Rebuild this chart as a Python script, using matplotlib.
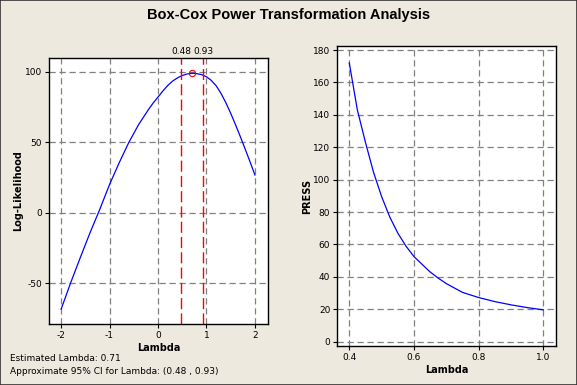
import matplotlib.pyplot as plt
from matplotlib.patches import Rectangle
import matplotlib.transforms as mtransforms

plt.rcParams['axes.unicode_minus'] = False

# log-likelihood curve
lam_ll = [-2.0, -1.8, -1.6, -1.4, -1.2, -1.0, -0.8, -0.6, -0.4, -0.2, -0.1, 0.0,
          0.1, 0.2, 0.3, 0.4, 0.5, 0.6, 0.71, 0.8, 0.9, 1.0, 1.1, 1.2, 1.3,
          1.4, 1.5, 1.6, 1.7, 1.8, 1.9, 2.0]
loglik = [-68.5, -49.5, -31.5, -14, 2.5, 20, 35.5, 50, 62.5, 73, 77.8, 82,
          86.3, 90.2, 93.3, 95.6, 97.3, 98.4, 98.9, 98.6, 97.9, 96.4, 93.8, 90, 84.6,
          78, 70.5, 62.3, 53.8, 45, 36, 26.7]
est_lambda = 0.71
ci_low, ci_high = 0.48, 0.93

# PRESS curve
lam_press = [0.4, 0.425, 0.45, 0.475, 0.5, 0.525, 0.55, 0.575, 0.6, 0.625,
             0.65, 0.675, 0.7, 0.75, 0.8, 0.85, 0.9, 0.95, 1.0]
press = [172, 143, 123, 104.5, 89.5, 77, 67, 59, 52.5, 47.7,
         43, 39.2, 35.8, 30.4, 27.2, 24.7, 22.7, 21, 19.6]

bg = '#EDE9DE'
grid_kw = dict(color='#808080', linestyle=(0, (5, 3)), linewidth=0.9)

fig = plt.figure(figsize=(5.77, 3.85), dpi=100, facecolor=bg)
fig.patches.append(Rectangle((0, 0), 1, 1, transform=fig.transFigure, fill=False,
                             edgecolor='#333333', linewidth=1.2))

fig.text(0.5, 0.962, 'Box-Cox Power Transformation Analysis', ha='center', va='center',
         fontsize=10.5, fontweight='bold', family=['Liberation Sans', 'DejaVu Sans'])

def style(ax):
    for s in ax.spines.values():
        s.set_linewidth(1.0)
        s.set_color('black')
    ax.tick_params(labelsize=6.5, length=3, width=0.8, pad=2)
    ax.grid(True, **grid_kw)
    ax.set_axisbelow(True)

# left panel
ax1 = fig.add_axes([0.0849, 0.1584, 0.3796, 0.6909])
ax1.plot(lam_ll, loglik, color='blue', linewidth=0.9)
ax1.axvline(ci_low, color='red', linestyle=(0, (8, 3)), linewidth=1.0)
ax1.axvline(ci_high, color='red', linestyle=(0, (8, 3)), linewidth=1.0)
ax1.plot([est_lambda], [max(loglik)], marker='o', markersize=4.5, markerfacecolor='none',
         markeredgecolor='red', markeredgewidth=0.8)
ax1.set_xlim(-2.25, 2.27)
ax1.set_ylim(-79, 109.7)
ax1.set_xticks([-2, -1, 0, 1, 2])
ax1.set_yticks([-50, 0, 50, 100])
style(ax1)
ax1.set_xlabel('Lambda', fontsize=7, fontweight='bold', labelpad=2)
ax1.set_ylabel('Log-Likelihood', fontsize=7, fontweight='bold', labelpad=1)
tr = mtransforms.blended_transform_factory(ax1.transData, ax1.transAxes)
ax1.text(ci_low, 1.006, '%.2f' % ci_low, transform=tr, ha='center', va='bottom', fontsize=6.5)
ax1.text(ci_high, 1.006, '%.2f' % ci_high, transform=tr, ha='center', va='bottom', fontsize=6.5)

fig.text(0.017, 0.07, 'Estimated Lambda: %.2f' % est_lambda, fontsize=6.5, va='center')
fig.text(0.017, 0.034, 'Approximate 95%% CI for Lambda: (%.2f , %.2f)' % (ci_low, ci_high),
         fontsize=6.5, va='center')

# right panel
ax2 = fig.add_axes([0.5846, 0.1013, 0.3785, 0.7792])
ax2.plot(lam_press, press, color='blue', linewidth=0.9)
ax2.set_xlim(0.363, 1.038)
ax2.set_ylim(-2.7, 182.5)
ax2.set_xticks([0.4, 0.6, 0.8, 1.0])
ax2.set_yticks(range(0, 181, 20))
style(ax2)
ax2.set_xlabel('Lambda', fontsize=7, fontweight='bold', labelpad=2)
ax2.set_ylabel('PRESS', fontsize=7, fontweight='bold', labelpad=1)

fig.savefig('out.png', dpi=100, facecolor=bg)
